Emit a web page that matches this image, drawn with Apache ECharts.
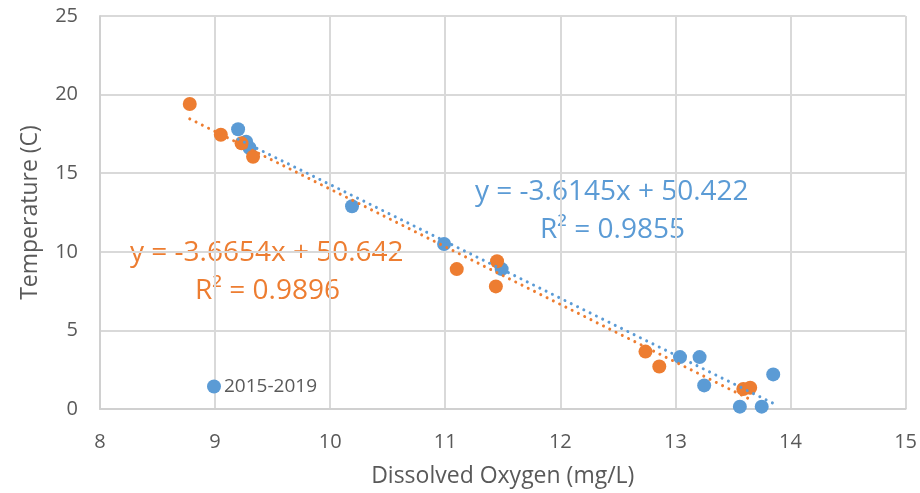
<!DOCTYPE html>
<html>
<head>
<meta charset="utf-8">
<script src="https://cdn.jsdelivr.net/npm/echarts@6/dist/echarts.min.js"></script>
<style>
  html, body { margin: 0; padding: 0; background: #fff; }
  #chart { width: 920px; height: 493px; }
</style>
</head>
<body>
<div id="chart"></div>
<script>
// 2015-2019 readings (blue)
const blueOxygen = [9.20, 9.27, 9.30, 10.19, 10.99, 11.49, 13.04, 13.21, 13.25, 13.85, 13.56, 13.75];
const blueTemp   = [17.8, 17.0, 16.6, 12.9, 10.5, 8.9, 3.3, 3.3, 1.5, 2.2, 0.15, 0.15];
// second series (orange), no legend entry in the original
const orangeOxygen = [8.78, 9.05, 9.23, 9.33, 11.10, 11.45, 11.44, 12.74, 12.86, 13.59, 13.65];
const orangeTemp   = [19.4, 17.45, 16.9, 16.05, 8.9, 9.4, 7.8, 3.65, 2.7, 1.27, 1.35];

// linear trendlines as printed on the chart
const blueFit = { slope: -3.6145, intercept: 50.422, r2: '0.9855' };
const orangeFit = { slope: -3.6654, intercept: 50.642, r2: '0.9896' };

const xTicks = [8, 15, 1];
const yTicks = [0, 25, 5];

const BLUE = '#5B9BD5';
const ORANGE = '#ED7D31';
const TEXT = '#595959';
const FONT = '"Open Sans", sans-serif';

function pairs(xs, ys) {
    return xs.map((x, i) => [x, ys[i]]);
}

function trend(xs, fit) {
    const lo = Math.min(...xs);
    const hi = Math.max(...xs);
    return [lo, hi].map(x => [x, fit.slope * x + fit.intercept]);
}

function eqText(fit) {
    return 'y = ' + fit.slope + 'x + ' + fit.intercept.toFixed(3);
}

const chart = echarts.init(document.getElementById('chart'));

const option = {
    animation: false,
    textStyle: { fontFamily: FONT },
    grid: { left: 100, right: 12, top: 16, bottom: 83 },
    legend: {
        data: ['2015-2019'],
        left: 202,
        top: 372,
        icon: 'circle',
        itemWidth: 14,
        itemHeight: 14,
        itemGap: 4,
        textStyle: { color: TEXT, fontSize: 19, fontFamily: FONT, padding: [0, 0, 0, -2] }
    },
    xAxis: {
        type: 'value',
        min: xTicks[0],
        max: xTicks[1],
        interval: xTicks[2],
        name: 'Dissolved Oxygen (mg/L)',
        nameLocation: 'middle',
        nameGap: 56,
        nameTextStyle: { color: TEXT, fontSize: 23, fontFamily: FONT },
        axisLine: { show: true, lineStyle: { color: '#D0D0D0', width: 2 } },
        axisTick: { show: false },
        axisLabel: { color: TEXT, fontSize: 20, margin: 23, fontFamily: FONT },
        splitLine: { show: true, lineStyle: { color: '#D9D9D9', width: 2 } }
    },
    yAxis: {
        type: 'value',
        min: yTicks[0],
        max: yTicks[1],
        interval: yTicks[2],
        name: 'Temperature (C)',
        nameLocation: 'middle',
        nameGap: 58,
        nameTextStyle: { color: TEXT, fontSize: 23, fontFamily: FONT },
        axisLine: { show: true, lineStyle: { color: '#D0D0D0', width: 2 } },
        axisTick: { show: false },
        axisLabel: { color: TEXT, fontSize: 20, margin: 22, fontFamily: FONT },
        splitLine: { show: true, lineStyle: { color: '#D9D9D9', width: 2 } }
    },
    series: [
        {
            name: '2015-2019',
            type: 'scatter',
            data: pairs(blueOxygen, blueTemp),
            symbolSize: 14,
            itemStyle: { color: BLUE, opacity: 1 },
            z: 2
        },
        {
            name: 'orange',
            type: 'scatter',
            data: pairs(orangeOxygen, orangeTemp),
            symbolSize: 14,
            itemStyle: { color: ORANGE, opacity: 1 },
            z: 3
        },
        {
            name: 'blue trend',
            type: 'line',
            data: trend(blueOxygen, blueFit),
            symbol: 'none',
            lineStyle: { color: BLUE, width: 3, type: [0.01, 7], cap: 'round' },
            z: 4
        },
        {
            name: 'orange trend',
            type: 'line',
            data: trend(orangeOxygen, orangeFit),
            symbol: 'none',
            lineStyle: { color: ORANGE, width: 3, type: [0.01, 7], cap: 'round' },
            z: 5
        }
    ],
    graphic: [
        {
            type: 'text',
            left: 475,
            top: 178,
            style: { text: eqText(blueFit), fill: BLUE, fontSize: 28, fontFamily: FONT }
        },
        {
            type: 'text',
            left: 540,
            top: 216,
            style: { text: 'R² = ' + blueFit.r2, fill: BLUE, fontSize: 28, fontFamily: FONT }
        },
        {
            type: 'text',
            left: 130,
            top: 239,
            style: { text: eqText(orangeFit), fill: ORANGE, fontSize: 28, fontFamily: FONT }
        },
        {
            type: 'text',
            left: 195,
            top: 277,
            style: { text: 'R² = ' + orangeFit.r2, fill: ORANGE, fontSize: 28, fontFamily: FONT }
        }
    ]
};

chart.setOption(option);
</script>
</body>
</html>
